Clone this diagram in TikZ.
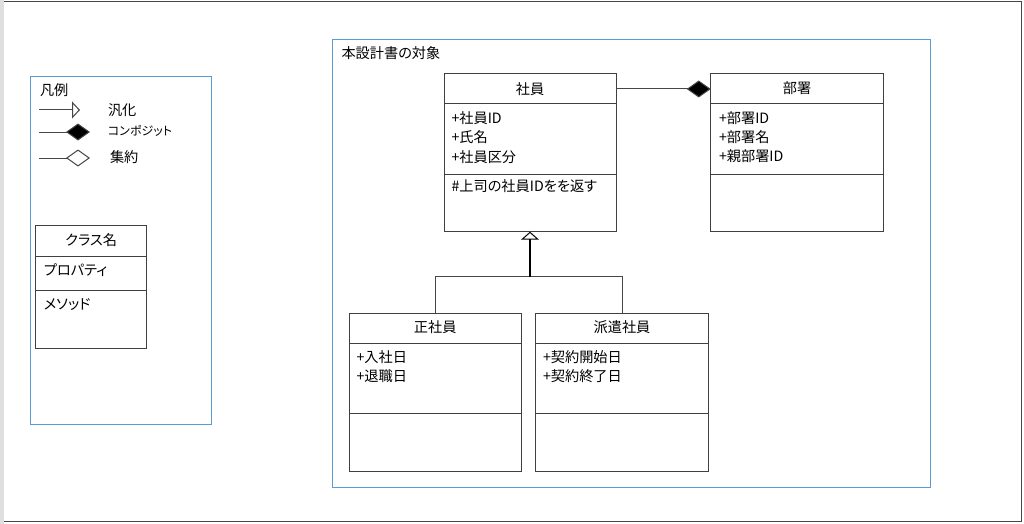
\documentclass[tikz,border=0pt]{standalone}
\usepackage{fontspec}
\setmainfont[RawFeature=+palt]{Noto Sans CJK JP}
\usetikzlibrary{arrows.meta}
\definecolor{scopeblue}{RGB}{91,155,213}
\definecolor{boxline}{RGB}{64,64,64}
\definecolor{conn}{RGB}{70,70,70}
\tikzset{
  px/.style={x=1pt,y=-1pt},
  classbox/.style={draw=boxline,line width=1pt,fill=white,inner sep=0pt,outer sep=0pt},
  divider/.style={draw=boxline,line width=1pt},
  scopebox/.style={draw=scopeblue,line width=1pt,inner sep=0pt,outer sep=0pt},
  txt/.style={inner sep=0pt,outer sep=0pt,anchor=west,font=\fontsize{14.2}{19.5}\selectfont},
  ctxt/.style={inner sep=0pt,outer sep=0pt,font=\fontsize{14.2}{19.5}\selectfont},
  connline/.style={draw=conn,line width=1pt},
  genline/.style={draw=black,line width=2pt},
}
\begin{document}
\begin{tikzpicture}[px]
\useasboundingbox (0,0) rectangle (1024,524);
\fill[white] (0,0) rectangle (1024,524);
% outer frame
\fill[gray!25] (0,0) rectangle (3.5,524);
\draw[conn,line width=1.2pt] (3.5,1.8) -- (1021.5,1.8) -- (1021.5,521.3) -- (3.5,521.3);

% legend box
\node[scopebox,minimum width=180.5,minimum height=347.5] (legend) at (121.2,250.5) {};
\node[txt] (legT) at (40,90) {凡例};
\coordinate (g1s) at (39,110); \coordinate (g1e) at (80,110);
\draw[connline,-{Triangle[open,length=8pt,width=17pt,line width=1pt]}] (g1s) -- (g1e);
\node[txt] (legGen) at (108,110) {汎化};
\coordinate (c1s) at (39,132); \coordinate (c1e) at (90,132);
\draw[connline,-{Diamond[length=24pt,width=17pt,fill=black]}] (c1s) -- (c1e);
\node[txt,font=\fontsize{12}{19.5}\selectfont] (legComp) at (108,131) {コンポジット};
\coordinate (a1s) at (39,158); \coordinate (a1e) at (90,158);
\draw[connline,-{Diamond[open,length=24pt,width=17pt,line width=1pt]}] (a1s) -- (a1e);
\node[txt] (legAgg) at (110,157) {集約};

% legend class
\node[classbox,minimum width=111,minimum height=123.3] (lcls) at (91.2,287.3) {};
\draw[divider] ([yshift=-31pt]lcls.north west) -- ([yshift=-31pt]lcls.north east);
\draw[divider] ([yshift=-65.3pt]lcls.north west) -- ([yshift=-65.3pt]lcls.north east);
\node[ctxt] (lclsT) at (91.2,240.5) {クラス名};
\node[txt] (lclsP) at (44,270.5) {プロパティ};
\node[txt] (lclsM) at (44,305) {メソッド};

% scope box
\node[scopebox,minimum width=597.5,minimum height=447.5] (scope) at (631.5,263.5) {};
\node[txt] (scopeT) at (341.5,53) {本設計書の対象};

% 社員
\node[classbox,minimum width=172,minimum height=158.4] (emp) at (530,152.5) {};
\draw[divider] ([yshift=-30.7pt]emp.north west) -- ([yshift=-30.7pt]emp.north east);
\draw[divider] ([yshift=-100.7pt]emp.north west) -- ([yshift=-100.7pt]emp.north east);
\node[ctxt] (empT) at (530,89) {社員};
\node[txt] (empA) at (451.5,118) {+社員ID};
\node[txt] (empB) at (451.5,137.5) {+氏名};
\node[txt] (empC) at (451.5,157) {+社員区分};
\node[txt] (empM) at (451.5,186.5) {\#上司の社員IDをを返す};

% 部署
\node[classbox,minimum width=172.5,minimum height=158.4] (dept) at (797,152.5) {};
\draw[divider] ([yshift=-30.7pt]dept.north west) -- ([yshift=-30.7pt]dept.north east);
\draw[divider] ([yshift=-100.7pt]dept.north west) -- ([yshift=-100.7pt]dept.north east);
\node[ctxt] (deptT) at (797,88.5) {部署};
\node[txt] (deptA) at (719,118) {+部署ID};
\node[txt] (deptB) at (719,137.5) {+部署名};
\node[txt] (deptC) at (719,156.5) {+親部署ID};

% 正社員
\node[classbox,minimum width=171.7,minimum height=158.4] (reg) at (435.2,392.5) {};
\draw[divider] ([yshift=-30pt]reg.north west) -- ([yshift=-30pt]reg.north east);
\draw[divider] ([yshift=-100pt]reg.north west) -- ([yshift=-100pt]reg.north east);
\node[ctxt] (regT) at (435.2,327.5) {正社員};
\node[txt] (regA) at (356.5,357.5) {+入社日};
\node[txt] (regB) at (356.5,376.5) {+退職日};

% 派遣社員
\node[classbox,minimum width=172.6,minimum height=158.4] (disp) at (622,392.5) {};
\draw[divider] ([yshift=-30pt]disp.north west) -- ([yshift=-30pt]disp.north east);
\draw[divider] ([yshift=-100pt]disp.north west) -- ([yshift=-100pt]disp.north east);
\node[ctxt] (dispT) at (622,327.5) {派遣社員};
\node[txt] (dispA) at (543,357.5) {+契約開始日};
\node[txt] (dispB) at (543,376.5) {+契約終了日};

% composition
\draw[connline,-{Diamond[length=24pt,width=17pt,fill=black]}] (emp.east |- empT) -- (dept.west |- empT);

% generalization
\coordinate (gj) at (530,276.7);
\draw[connline] (reg.north) -- (reg.north |- gj) -- (disp.north |- gj) -- (disp.north);
\draw[genline,-{Triangle[open,length=8pt,width=18pt,line width=1pt]}] (gj) -- (emp.south);
\end{tikzpicture}
\end{document}
